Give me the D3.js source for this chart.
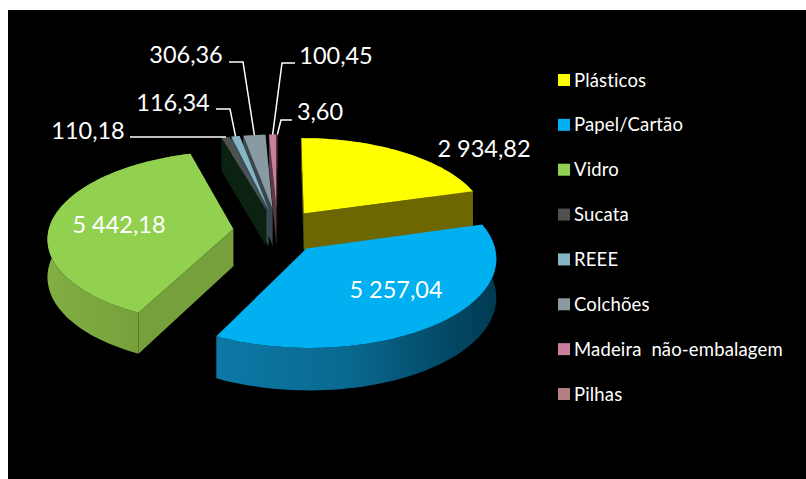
<!DOCTYPE html>
<html><head><meta charset="utf-8">
<script src="https://cdn.jsdelivr.net/npm/d3@7"></script>
<style>html,body{margin:0;padding:0;background:#fff}svg{display:block}text{font-family:Lato,"Open Sans",sans-serif;fill:#fff;font-variant-ligatures:none}</style>
</head><body><svg id="c" width="806" height="479"></svg>
<script>
const categories=["Plásticos","Papel/Cartão","Vidro","Sucata","REEE","Colchões","Madeira não-embalagem","Pilhas"];
const values=[2934.82,5257.04,5442.18,110.18,116.34,306.36,100.45,3.60];
const valueLabels=["2 934,82","5 257,04","5 442,18","110,18","116,34","306,36","100,45","3,60"];
const colors=["#ffff00","#00b0f0","#92d050","#505050","#86b6c6","#8a9aa2","#c87e9c","#b47f80"];
const wallColors=["#6e6600","#0a6d97","#76a03c","#0b2210","#33505a","#3a464c","#5a3a48","#503838"];

const W=806,H=479;
const svg=d3.select("#c");
svg.append("rect").attr("x",8).attr("y",10).attr("width",W-8).attr("height",H-10).attr("fill","#000");
const defs=svg.append("defs");

const cx=277.5,cy=231,rx=185,ry=86,k=0.0976,depth=37.5,explodeX=0.24,explodeY=0.26;
const pie=d3.pie().sort(null).value(d=>d);
const arcs=pie(values);
function proj(u,v,z){const f=1/(1-k*v);return [cx+rx*u*f,cy+ry*v*f+z*depth*f];}
function offset(a){const m=(a.startAngle+a.endAngle)/2;return [explodeX*Math.sin(m),-explodeY*Math.cos(m)];}
function pt(a,r,t,z){const o=offset(a);return proj(o[0]+r*Math.sin(t),o[1]-r*Math.cos(t),z);}
function arcPts(a,z){const n=Math.max(2,Math.ceil((a.endAngle-a.startAngle)/0.03));
  return d3.range(n+1).map(i=>pt(a,1,a.startAngle+(a.endAngle-a.startAngle)*i/n,z));}
const line=d3.line();
const order=arcs.map((a,i)=>i).sort((p,q)=>offset(arcs[p])[1]-offset(arcs[q])[1]);

const g=svg.append("g");
order.forEach(i=>{
  const a=arcs[i];
  const top=arcPts(a,0), bot=arcPts(a,1);
  const id="w"+i;
  const xs=top.map(p=>p[0]);
  const gr=defs.append("linearGradient").attr("id",id).attr("gradientUnits","userSpaceOnUse")
    .attr("x1",d3.min(xs)).attr("x2",d3.max(xs)).attr("y1",0).attr("y2",0);
  const base=d3.color(wallColors[i]);
  if(i===1){gr.append("stop").attr("offset",0).attr("stop-color","#0d78a6");
    gr.append("stop").attr("offset",0.45).attr("stop-color","#0a6a92");
    gr.append("stop").attr("offset",1).attr("stop-color","#003a52");}
  else{gr.append("stop").attr("offset",0).attr("stop-color",base.brighter(0.25));
    gr.append("stop").attr("offset",1).attr("stop-color",base.darker(0.15));}
  g.append("path").attr("d",line(top.concat(bot.slice().reverse()))+"Z").attr("fill","url(#"+id+")");
  [a.startAngle,a.endAngle].forEach((t,j)=>{
    const A=pt(a,0,t,0),B=pt(a,1,t,0),C=pt(a,1,t,1),D=pt(a,0,t,1);
    const s=d3.polygonArea([A,B,C,D]);
    const visible=j===0?s>0:s<0;
    if(visible)g.append("path").attr("d",line([A,B,C,D])+"Z").attr("fill",wallColors[i]);
  });
  g.append("path").attr("d",line([pt(a,0,a.startAngle,0)].concat(top))+"Z").attr("fill",colors[i]);
});

const labelPos=[[484,148],[396,289],[119,224],[88,130],[173,102],[186,54],[336,55],[320,111]];
svg.selectAll("text.v").data(valueLabels).join("text").attr("class","v")
  .attr("x",(d,i)=>labelPos[i][0]).attr("y",(d,i)=>labelPos[i][1])
  .attr("text-anchor","middle").attr("dominant-baseline","central")
  .attr("font-size",23.5).text(d=>d);

const leaders=[[3,[130,137],[226,137]],[4,[216,109],[230,109]],[5,[229,62],[243,62]],[6,[295,63],[282,63]],[7,[292,120],[281,120]]];
leaders.forEach(([i,s,e])=>{
  const a=arcs[i],m=(a.startAngle+a.endAngle)/2,p=pt(a,1,m,0);
  const path=i===3?[s,e]:[s,e,p];
  svg.append("path").attr("d",line(path)).attr("fill","none").attr("stroke","#fff").attr("stroke-width",1.5);
});

const legendY=d3.scalePoint().domain(categories).range([80,394]);
const lg=svg.selectAll("g.l").data(categories).join("g").attr("class","l")
  .attr("transform",d=>`translate(558,${legendY(d)})`);
lg.append("rect").attr("x",0).attr("y",-6).attr("width",12).attr("height",12).attr("fill",(d,i)=>colors[i]);
lg.append("text").attr("x",16).attr("y",-0.5).attr("dominant-baseline","central").attr("font-size",18.5).attr("letter-spacing",0.15).attr("word-spacing",5).text(d=>d);
</script></body></html>
